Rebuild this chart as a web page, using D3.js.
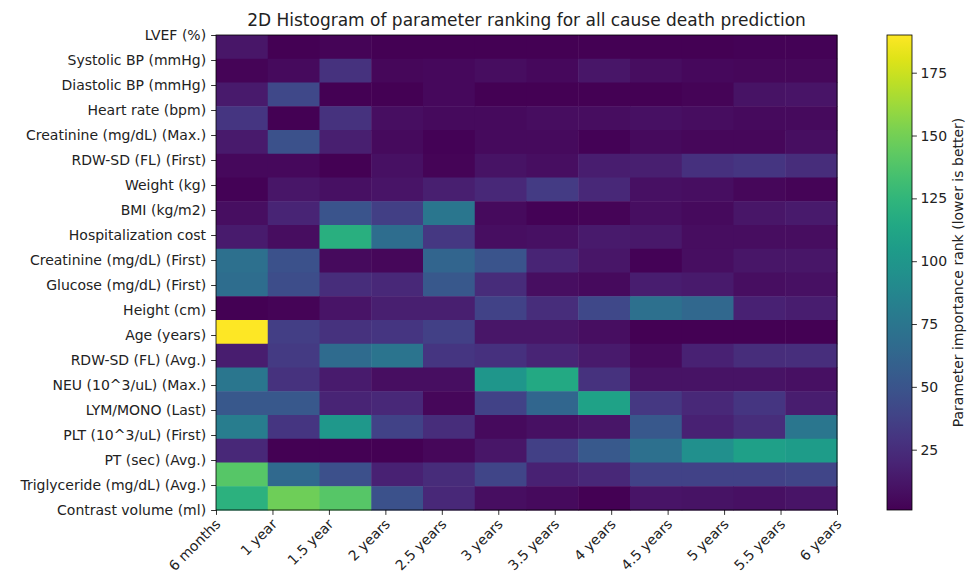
<!DOCTYPE html>
<html>
<head>
<meta charset="utf-8">
<script src="https://cdn.jsdelivr.net/npm/d3@7"></script>
<style>
  html, body { margin:0; padding:0; background:#fff; }
  svg text { font-family: "DejaVu Sans", sans-serif; fill:#222; }
  .axis path, .axis line { stroke:#000; stroke-width:0.8; }
  .axis text { font-size:14px; fill:#222; }
</style>
</head>
<body>
<div id="chart"></div>
<script>
// ====== données
const PARAMS = [
  "LVEF (%)", "Systolic BP (mmHg)", "Diastolic BP (mmHg)", "Heart rate (bpm)",
  "Creatinine (mg/dL) (Max.)", "RDW-SD (FL) (First)", "Weight (kg)", "BMI (kg/m2)",
  "Hospitalization cost", "Creatinine (mg/dL) (First)", "Glucose (mg/dL) (First)",
  "Height (cm)", "Age (years)", "RDW-SD (FL) (Avg.)", "NEU (10^3/uL) (Max.)",
  "LYM/MONO (Last)", "PLT (10^3/uL) (First)", "PT (sec) (Avg.)",
  "Triglyceride (mg/dL) (Avg.)", "Contrast volume (ml)"
];
const PERIODS = ["6 months","1 year","1.5 year","2 years","2.5 years","3 years",
  "3.5 years","4 years","4.5 years","5 years","5.5 years","6 years"];

// comptes par bin (20 bins verticaux x 12 bins horizontaux)
const COUNTS = [
  [ 12,  1,  3,  1,  1,  1,  1,  1,  1,  1,  2,  2],
  [  3,  6, 28,  4,  5,  7,  5, 12,  7,  5,  4,  4],
  [ 14, 42,  1,  1,  5,  1,  1,  1,  1,  3, 10, 11],
  [ 30,  1, 28,  8,  6,  6,  7,  7,  9,  7,  6,  6],
  [ 14, 48, 17,  6,  2,  6,  6,  2,  6,  4,  4,  8],
  [  5,  5,  1,  9,  3, 10,  8, 16, 17, 27, 30, 25],
  [  2, 12,  9, 11, 17, 22, 34, 22,  9,  8,  4,  3],
  [  8, 20, 50, 36, 75,  6,  2,  3,  8,  6, 12, 14],
  [ 15,  7,120, 68, 32,  8,  9, 14, 13,  7,  7,  7],
  [ 70, 48,  6,  4, 62, 50, 20, 12,  2,  8, 12, 12],
  [ 68, 45, 25, 22, 52, 24,  8,  6, 16, 14,  8,  9],
  [  1,  3, 11, 17, 17, 38, 25, 42, 70, 64, 18, 16],
  [190, 35, 28, 30, 37, 12, 12,  8,  1,  1,  1,  1],
  [ 16, 33, 66, 74, 30, 27, 20, 14,  6, 18, 25, 26],
  [ 75, 28, 15,  8,  8,100,115, 28, 10, 10, 10,  9],
  [ 52, 52, 20, 22,  4, 38, 63,110, 32, 22, 30, 16],
  [ 80, 30,102, 38, 25,  6,  9, 12, 52, 18, 25, 75],
  [ 22,  1,  1,  1,  4, 12, 37, 53, 70, 95,108,105],
  [140, 65, 47, 18, 24, 40, 18, 22, 38, 38, 38, 40],
  [122,148,140, 48, 22,  8,  6,  1, 11, 10,  9, 11]
];
const CBAR_TICKS = [25, 50, 75, 100, 125, 150, 175];

// ====== dimensions
const W = 971, H = 573;
const M = {t:35, l:216, r:837, b:510};
const CB = {x0:887, x1:912};

const svg = d3.select("#chart").append("svg")
  .attr("width", W).attr("height", H);

const nRow = COUNTS.length, nCol = COUNTS[0].length;
const x = d3.scaleLinear().domain([0, PERIODS.length - 1]).range([M.l, M.r]);
const y = d3.scaleLinear().domain([0, PARAMS.length - 1]).range([M.t, M.b]);

const flat = COUNTS.flat();
const vmin = d3.min(flat), vmax = d3.max(flat);
const color = d3.scaleSequential(d3.interpolateViridis).domain([vmin, vmax]);

// bords des bins (hist2d : bins égaux sur l'étendue des ticks)
const xEdge = i => x(i * (PERIODS.length - 1) / nCol);
const yEdge = j => y(j * (PARAMS.length - 1) / nRow);

const cells = [];
COUNTS.forEach((row, j) => row.forEach((v, i) => cells.push({i, j, v})));

svg.append("g").selectAll("rect").data(cells).join("rect")
  .attr("x", d => xEdge(d.i))
  .attr("y", d => yEdge(d.j))
  .attr("width", d => xEdge(d.i + 1) - xEdge(d.i) + 0.5)
  .attr("height", d => yEdge(d.j + 1) - yEdge(d.j) + 0.5)
  .attr("fill", d => color(d.v));

// cadre
svg.append("rect")
  .attr("x", M.l).attr("y", M.t)
  .attr("width", M.r - M.l).attr("height", M.b - M.t)
  .attr("fill", "none").attr("stroke", "#000").attr("stroke-width", 0.8);

// axe y
svg.append("g").attr("class", "axis")
  .attr("transform", `translate(${M.l},0)`)
  .call(d3.axisLeft(y).tickValues(d3.range(PARAMS.length))
    .tickFormat(i => PARAMS[i]).tickSize(4.9).tickPadding(5))
  .call(g => g.select(".domain").remove());

// axe x
const gx = svg.append("g").attr("class", "axis")
  .attr("transform", `translate(0,${M.b})`)
  .call(d3.axisBottom(x).tickValues(d3.range(PERIODS.length))
    .tickFormat(i => PERIODS[i]).tickSize(4.9))
  .call(g => g.select(".domain").remove());
gx.selectAll("text")
  .attr("text-anchor", "end")
  .attr("dy", null).attr("y", null)
  .attr("transform", "translate(5,15) rotate(-45)");

// titre
svg.append("text")
  .attr("x", (M.l + M.r) / 2).attr("y", 26)
  .attr("text-anchor", "middle")
  .style("font-size", "17px")
  .text("2D Histogram of parameter ranking for all cause death prediction");

// ====== colorbar
const defs = svg.append("defs");
const grad = defs.append("linearGradient").attr("id", "vir")
  .attr("x1", 0).attr("y1", 1).attr("x2", 0).attr("y2", 0);
d3.range(0, 1.0001, 0.05).forEach(t => {
  grad.append("stop").attr("offset", t).attr("stop-color", d3.interpolateViridis(t));
});
svg.append("rect")
  .attr("x", CB.x0).attr("y", M.t)
  .attr("width", CB.x1 - CB.x0).attr("height", M.b - M.t)
  .attr("fill", "url(#vir)")
  .attr("stroke", "#000").attr("stroke-width", 0.8);

const cy = d3.scaleLinear().domain([vmin, vmax]).range([M.b, M.t]);
svg.append("g").attr("class", "axis")
  .attr("transform", `translate(${CB.x1},0)`)
  .call(d3.axisRight(cy).tickValues(CBAR_TICKS).tickSize(4.9).tickPadding(3.5))
  .call(g => g.select(".domain").remove());

svg.append("text")
  .attr("transform", `translate(963,${(M.t + M.b) / 2}) rotate(-90)`)
  .attr("text-anchor", "middle")
  .style("font-size", "14px")
  .text("Parameter importance rank (lower is better)");
</script>
</body>
</html>
